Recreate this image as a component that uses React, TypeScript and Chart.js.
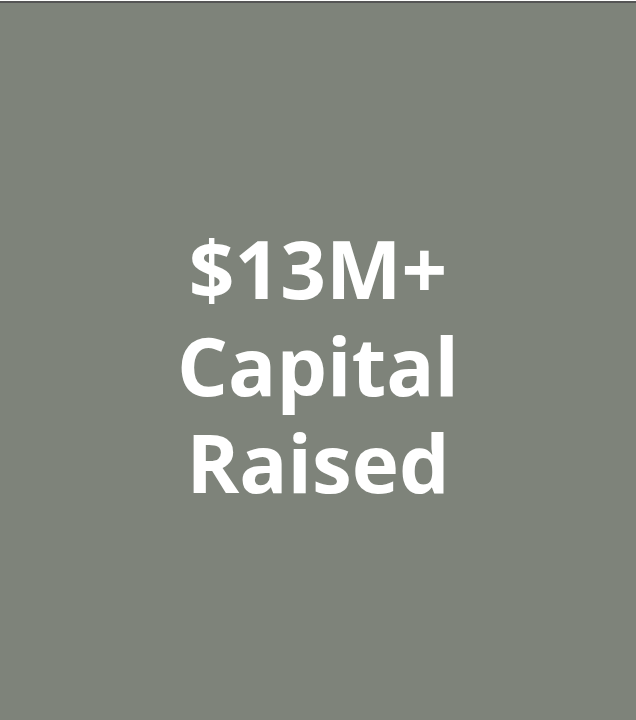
import React, { useEffect, useRef } from "react";
import { Chart, registerables } from "chart.js";

Chart.register(...registerables);

const titleLines = ["$13M+", "Capital", "Raised"];
const categories: string[] = [];
const values: number[] = [];

const bgPlugin = {
  id: "tileBg",
  beforeDraw(chart: any) {
    const { ctx, width, height } = chart;
    ctx.save();
    ctx.fillStyle = "#ffffff";
    ctx.fillRect(0, 0, width, height);
    ctx.fillStyle = "#555555";
    ctx.fillRect(0, 1, width, 2);
    ctx.fillStyle = "#7e837a";
    ctx.fillRect(0, 3, width, height - 3);
    ctx.restore();
  },
};

export default function App() {
  const ref = useRef<HTMLCanvasElement>(null);
  useEffect(() => {
    document.body.style.margin = "0";
    const chart = new Chart(ref.current!, {
      type: "bar",
      data: { labels: categories, datasets: [{ data: values }] },
      options: {
        animation: false,
        responsive: false,
        devicePixelRatio: 1,
        layout: { padding: 0 },
        scales: { x: { display: false }, y: { display: false } },
        plugins: {
          legend: { display: false },
          tooltip: { enabled: false },
          title: {
            display: true,
            text: titleLines,
            color: "#ffffff",
            font: { family: "'Open Sans'", size: 80, weight: "bold", lineHeight: 1.2125 },
            padding: { top: 228, bottom: 0 },
          },
        },
      },
      plugins: [bgPlugin],
    });
    return () => chart.destroy();
  }, []);
  return <canvas ref={ref} width={636} height={720} style={{ display: "block" }} />;
}
